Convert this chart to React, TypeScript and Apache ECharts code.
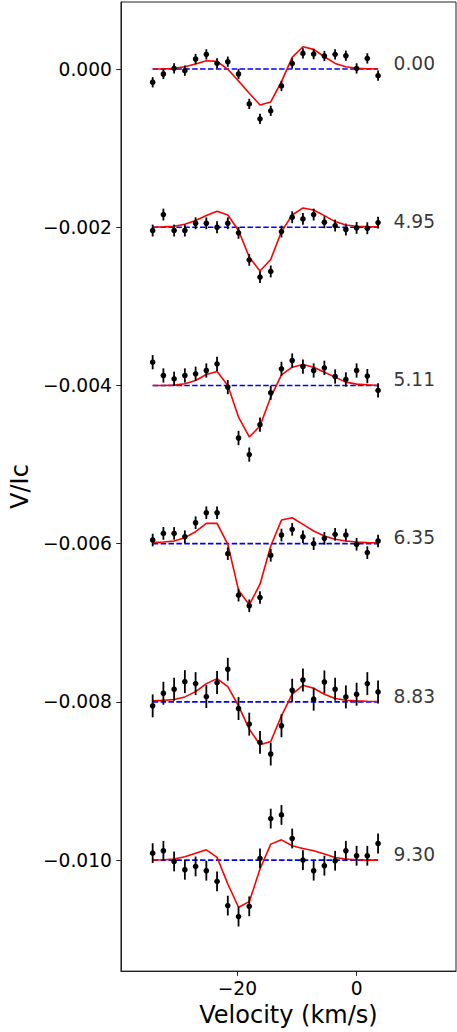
import React, { useEffect, useRef } from "react";
import * as echarts from "echarts";

// Velocity grid (km/s)
const velocity = [
  -34.2, -32.4, -30.6, -28.8, -27.0, -25.2, -23.4, -21.6, -19.8, -18.0, -16.2,
  -14.4, -12.6, -10.8, -9.0, -7.2, -5.4, -3.6, -1.8, 0.0, 1.8, 3.6,
];

// Phase labels and vertical shifts of each profile
const phaseLabels = ["0.00", "4.95", "5.11", "6.35", "8.83", "9.30"];
const shifts = [0, -0.002, -0.004, -0.006, -0.008, -0.01];
const errors = [0.000065, 0.000075, 0.00009, 0.00008, 0.000145, 0.000125];

// Observed V/Ic (unshifted)
const obs0 = [-0.000168, -0.000063, 0.000008, -0.000021, 0.000126, 0.000185, 0.000071, 0.000092, -0.000063, -0.000441, -0.00063, -0.000529, -0.000214, 0.000071, 0.000197, 0.000189, 0.000164, 0.000185, 0.000168, 0.000008, 0.000134, -0.000084];
const obs1 = [-0.000042, 0.00016, -0.000042, -0.000042, 0.00005, 0.00005, 0.0, 0.00005, -0.000071, -0.000412, -0.00063, -0.000559, -0.000055, 0.000126, 0.000105, 0.00016, 0.000063, 0.000021, -0.000029, -0.000008, -0.000013, 0.000059];
const obs2 = [0.000294, 0.000126, 0.000084, 0.000126, 0.000147, 0.000189, 0.000273, -0.000021, -0.000664, -0.000874, -0.000496, -0.000092, 0.00021, 0.000315, 0.000239, 0.000189, 0.000223, 0.000113, 0.000076, 0.000189, 0.000118, -0.000063];
const obs3 = [0.000046, 0.00013, 0.00013, 0.000088, 0.000265, 0.000391, 0.000391, -0.000126, -0.000651, -0.000785, -0.00068, -0.000147, 0.000109, 0.000181, 0.000088, 0.0, 0.000067, 0.000118, 0.000109, -0.000008, -0.000113, 0.000034];
const obs4 = [-0.00005, 0.000109, 0.00016, 0.000256, 0.000231, 0.000067, 0.000244, 0.000412, -0.000084, -0.000281, -0.000512, -0.000659, -0.000302, 0.000147, 0.000277, 0.000034, 0.000252, 0.00016, 0.000063, 0.000097, 0.000231, 0.000126];
const obs5 = [0.000088, 0.000118, -0.000017, -0.000122, -0.00008, -0.000134, -0.000269, -0.000575, -0.000714, -0.000584, 0.000021, 0.000525, 0.000571, 0.000273, 0.0, -0.000134, -0.000071, -0.000008, 0.000118, 0.000055, 0.000055, 0.00021];

// Model V/Ic (unshifted)
const model0 = [0, 0, 0.000008, 0.000029, 0.000063, 0.000105, 0.000097, -0.000004, -0.000151, -0.000307, -0.000454, -0.000416, -0.00016, 0.000147, 0.000281, 0.000248, 0.000155, 0.000071, 0.000029, 0.000008, 0.000004, 0];
const model1 = [0, 0.000004, 0.000013, 0.000038, 0.000084, 0.000147, 0.000202, 0.000155, -0.000042, -0.000378, -0.000554, -0.000407, -0.000055, 0.000155, 0.000244, 0.000218, 0.000147, 0.000071, 0.000029, 0.000013, 0.000008, 0.000004];
const model2 = [0, 0, 0.000004, 0.000021, 0.000063, 0.000139, 0.000176, 0, -0.000399, -0.000651, -0.000512, -0.000147, 0.000134, 0.000231, 0.000265, 0.000231, 0.000168, 0.000105, 0.000042, 0.000017, 0.000008, 0];
const model3 = [0.000013, 0.000021, 0.000034, 0.000076, 0.000151, 0.000256, 0.000256, -0.000008, -0.000588, -0.000773, -0.000512, -0.000029, 0.000298, 0.000328, 0.000244, 0.00016, 0.000097, 0.000055, 0.000034, 0.000021, 0.000013, 0.000008];
const model4 = [0.000013, 0.000021, 0.000029, 0.000063, 0.00013, 0.000231, 0.000294, 0.000193, -0.00005, -0.000344, -0.000542, -0.0005, -0.000176, 0.000097, 0.00021, 0.000172, 0.000097, 0.000042, 0.000021, 0.000013, 0.000008, 0.000004];
const model5 = [0, 0.000004, 0.000013, 0.000042, 0.000088, 0.00013, 0.000034, -0.000302, -0.000596, -0.000525, -0.000113, 0.000202, 0.000256, 0.000181, 0.000147, 0.000118, 0.000076, 0.000034, 0.000013, 0.000004, 0, 0];

const observed = [obs0, obs1, obs2, obs3, obs4, obs5];
const models = [model0, model1, model2, model3, model4, model5];

const yTicks = [0, -0.002, -0.004, -0.006, -0.008, -0.01];
const xTicks = [-20, 0];

const FONT = "DejaVu Sans";

function fmtY(v: number): string {
  const s = Math.abs(v).toFixed(3);
  return (v < -1e-12 ? "\u2212" : "") + s;
}
function fmtX(v: number): string {
  return (v < 0 ? "\u2212" : "") + String(Math.abs(Math.round(v)));
}

export default function App() {
  const ref = useRef<HTMLDivElement>(null);
  useEffect(() => {
    if (!ref.current) return;
    const chart = echarts.init(ref.current, null, { renderer: "svg" });
    const series: any[] = [];
    const x0 = velocity[0];
    const x1 = velocity[velocity.length - 1];

    shifts.forEach((s, i) => {
      series.push({
        type: "line",
        data: [
          [x0, s],
          [x1, s],
        ],
        showSymbol: false,
        symbol: "none",
        lineStyle: { color: "#0000ff", width: 1.6, type: [5.5, 2.4] },
        z: 2,
        silent: true,
      });
      series.push({
        type: "line",
        data: velocity.map((v, k) => [v, models[i][k] + s]),
        showSymbol: false,
        symbol: "none",
        lineStyle: { color: "#ff0000", width: 1.6 },
        z: 3,
        silent: true,
      });
      series.push({
        type: "custom",
        z: 4,
        data: velocity.map((v, k) => [v, observed[i][k] + s, errors[i]]),
        renderItem: (params: any, api: any) => {
          const x = api.value(0);
          const y = api.value(1);
          const e = api.value(2);
          const t = api.coord([x, y + e]);
          const b = api.coord([x, y - e]);
          const c = api.coord([x, y]);
          return {
            type: "group",
            children: [
              {
                type: "line",
                shape: { x1: t[0], y1: t[1], x2: b[0], y2: b[1] },
                style: { stroke: "#000", lineWidth: 1.8 },
              },
              {
                type: "circle",
                shape: { cx: c[0], cy: c[1], r: 2.8 },
                style: { fill: "#000" },
              },
            ],
          };
        },
      });
    });

    series.push({
      type: "scatter",
      symbolSize: 0,
      z: 5,
      data: shifts.map((s, i) => ({ value: [6.2, s + 0.000072], name: phaseLabels[i] })),
      label: {
        show: true,
        position: "right",
        distance: 0,
        formatter: (p: any) => p.name,
        color: "#000",
        fontSize: 18.67,
        fontFamily: FONT,
      },
      silent: true,
    });

    chart.setOption({
      animation: false,
      backgroundColor: "#fff",
      grid: {
        left: 120,
        right: 1,
        top: 2,
        bottom: 58,
        show: true,
        borderColor: "#222",
        borderWidth: 1,
        backgroundColor: "transparent",
      },
      xAxis: {
        type: "value",
        min: -39.52,
        max: 16.67,
        name: "Velocity (km/s)",
        nameLocation: "middle",
        nameGap: 26,
        nameTextStyle: { fontSize: 24, fontFamily: FONT, color: "#000", verticalAlign: "top" },
        axisLine: { show: true, onZero: false, lineStyle: { color: "#222", width: 1 } },
        axisTick: {
          show: true,
          inside: false,
          length: 4.7,
          lineStyle: { color: "#222", width: 1 },
          customValues: xTicks,
        },
        axisLabel: {
          show: true,
          margin: 8,
          fontSize: 18.67,
          fontFamily: FONT,
          color: "#000",
          customValues: xTicks,
          formatter: (v: number) => fmtX(v),
        },
        splitLine: { show: false },
      },
      yAxis: {
        type: "value",
        min: -0.011403,
        max: 0.000847,
        name: "V/Ic",
        nameLocation: "middle",
        nameGap: 86,
        nameRotate: 90,
        nameTextStyle: { fontSize: 24, fontFamily: FONT, color: "#000" },
        axisLine: { show: true, onZero: false, lineStyle: { color: "#222", width: 1 } },
        axisTick: {
          show: true,
          inside: false,
          length: 4.7,
          lineStyle: { color: "#222", width: 1 },
          customValues: yTicks,
        },
        axisLabel: {
          show: true,
          margin: 9,
          fontSize: 18.67,
          fontFamily: FONT,
          color: "#000",
          customValues: yTicks,
          formatter: (v: number) => fmtY(v),
        },
        splitLine: { show: false },
      },
      series,
    });
    return () => chart.dispose();
  }, []);

  return (
    <div
      ref={ref}
      style={{ position: "fixed", left: 0, top: 0, width: 457, height: 1032, background: "#fff" }}
    />
  );
}
